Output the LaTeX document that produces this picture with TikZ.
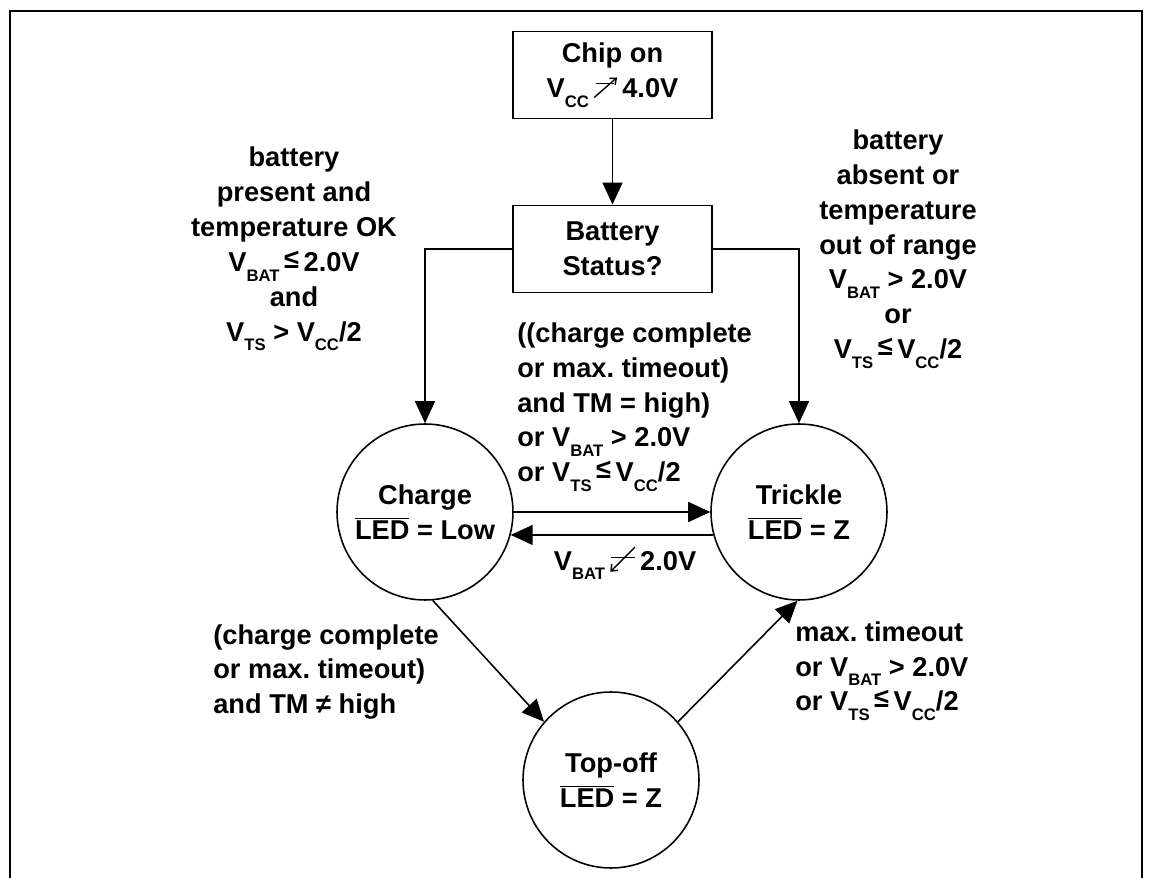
\documentclass[tikz,border=0pt]{standalone}
\usepackage{fontspec}
\setmainfont{Liberation Sans}
\usetikzlibrary{arrows.meta,positioning,calc}

\newcommand{\V}[1]{V\raisebox{-0.35em}{\fontsize{9.5}{9.5}\selectfont #1}}
\newcommand{\lesym}{\raisebox{0.12em}{≤}}
\newcommand{\LEDbar}{$\overline{\mbox{LED}}$}
\newcommand{\risesym}{\begin{pgfpicture}\pgfsetbaseline{0pt}\pgfsetlinewidth{0.8pt}%
\pgfpathmoveto{\pgfpoint{1pt}{8pt}}\pgfpathlineto{\pgfpoint{11.5pt}{8pt}}\pgfusepath{stroke}%
\pgfsetarrowsend{Straight Barb[length=3pt,width=5pt]}%
\pgfpathmoveto{\pgfpoint{0pt}{0pt}}\pgfpathlineto{\pgfpoint{13pt}{11.4pt}}\pgfusepath{stroke}%
\end{pgfpicture}}
\newcommand{\fallsym}{\begin{pgfpicture}\pgfsetbaseline{0pt}\pgfsetlinewidth{0.8pt}%
\pgfpathmoveto{\pgfpoint{0.5pt}{7pt}}\pgfpathlineto{\pgfpoint{14pt}{7pt}}\pgfusepath{stroke}%
\pgfsetarrowsend{Straight Barb[length=3pt,width=5pt]}%
\pgfpathmoveto{\pgfpoint{14pt}{13pt}}\pgfpathlineto{\pgfpoint{0pt}{-1pt}}\pgfusepath{stroke}%
\end{pgfpicture}}

\begin{document}
\begin{tikzpicture}[x=0.02cm,y=-0.02cm,
  every node/.style={font=\fontsize{15.5}{19.9}\selectfont\bfseries\frenchspacing},
  box/.style={draw,line width=1.1pt,minimum width=3.98cm,minimum height=1.74cm,align=center,inner sep=0pt},
  state/.style={draw,circle,line width=0.9pt,minimum size=3.52cm,align=center,inner sep=0pt},
  lbl/.style={inner sep=0pt},
  arr/.style={line width=0.9pt,-{Triangle[length=4.4mm,width=4mm]}}]
\useasboundingbox (0,0) rectangle (1154,878);
\draw[line width=1.1pt] (10,878) -- (10,11) -- (1142,11) -- (1142,878);

\node[box] (chip) at (612.5,75) {Chip on\\\V{CC}\,\risesym\,4.0V};
\node[box] (status) at (612.5,249) {Battery\\Status?};

\node[state] (charge) at (425,512) {Charge\\\LEDbar{} = Low};
\node[state] (trickle) at (799,512) {Trickle\\\LEDbar{} = Z};
\node[state] (topoff) at (611,780) {Top-off\\\LEDbar{} = Z};

\node[lbl,align=center] (okcond) at (294,249) {battery\\present and\\temperature OK\\\V{BAT}\,\lesym\,2.0V\\and\\\V{TS} > \V{CC}/2};
\node[lbl,align=center] (badcond) at (898,249) {battery\\absent or\\temperature\\out of range\\\V{BAT} > 2.0V\\or\\\V{TS}\,\lesym\,\V{CC}/2};
\node[lbl,align=left,anchor=west] (tricklecond) at (517,407) {((charge complete\\or max. timeout)\\and TM = high)\\or \V{BAT} > 2.0V\\or \V{TS}\,\lesym\,\V{CC}/2};
\node[lbl] (backcond) at (625,563) {\V{BAT}\,\fallsym\,2.0V};
\node[lbl,align=left,anchor=west] (topcond) at (213,672) {(charge complete\\or max. timeout)\\and TM ≠ high};
\node[lbl,align=left,anchor=west] (endcond) at (795,671) {max. timeout\\or \V{BAT} > 2.0V\\or \V{TS}\,\lesym\,\V{CC}/2};

\draw[arr] (chip) -- (status);
\draw[arr] (status.west) -| (charge.north);
\draw[arr] (status.east) -| (trickle.north);
\draw[arr] (charge.east) -- (trickle.west);
\draw[arr] (trickle.195) -- (charge.-15);
\draw[arr] (charge.-85) -- (topoff.139);
\draw[arr] (topoff.41) -- (trickle.-91);
\end{tikzpicture}
\end{document}
